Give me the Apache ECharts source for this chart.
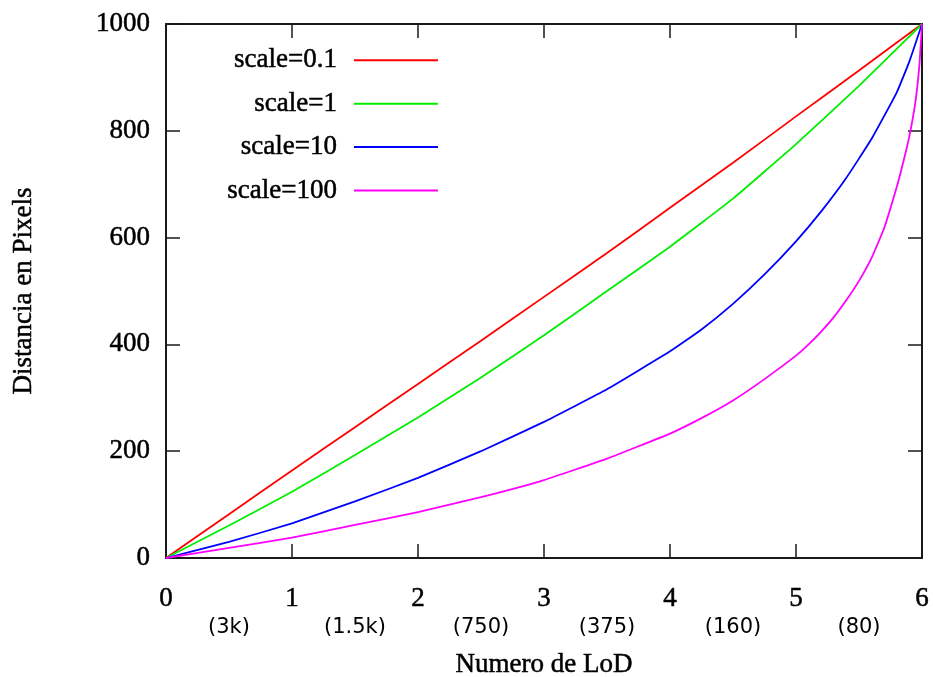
<!DOCTYPE html>
<html>
<head>
<meta charset="utf-8">
<script src="https://cdn.jsdelivr.net/npm/echarts@6/dist/echarts.min.js"></script>
<style>
html,body{margin:0;padding:0;background:#fff;}
#chart{width:933px;height:677px;}
</style>
</head>
<body>
<div id="chart"></div>
<script>
// ---- data ----
const xTicks = [0, 1, 2, 3, 4, 5, 6];
const yTicks = [0, 200, 400, 600, 800, 1000];
const lodLabels = ['(3k)', '(1.5k)', '(750)', '(375)', '(160)', '(80)'];

const seriesNames = ['scale=0.1', 'scale=1', 'scale=10', 'scale=100'];

const xRed = [0, 0.5, 1, 1.5, 2, 2.5, 3, 3.5, 4, 4.5, 5, 5.5, 6];
const yRed = [0, 82, 164, 245, 326, 407, 489, 571, 656, 740, 827, 913, 1000];

const xGreen = [0, 0.5, 1, 1.5, 2, 2.5, 3, 3.5, 4, 4.5, 5, 5.5, 6];
const yGreen = [0, 61, 124, 193, 263, 338, 417, 500, 583, 673, 775, 884, 1000];

const xBlue = [0, 0.5, 1, 1.5, 2, 2.5, 3, 3.5, 4, 4.25, 4.5, 4.75, 5, 5.2, 5.4, 5.6, 5.8, 5.9, 6];
const yBlue = [0, 30, 65, 106, 150, 200, 255, 316, 387, 428, 476, 531, 593, 649, 712, 785, 872, 930, 1000];

const xMag = [0, 0.5, 1, 1.5, 2, 2.5, 3, 3.5, 4, 4.25, 4.5, 4.75, 5, 5.1, 5.2, 5.3, 5.4, 5.5, 5.6, 5.7, 5.8, 5.85, 5.9, 5.95, 5.98, 6];
const yMag = [0, 19, 38, 62, 86, 114, 146, 186, 233, 262, 295, 335, 379, 400, 424, 451, 483, 519, 562, 618, 695, 740, 790, 858, 925, 1000];

// ---- build ----
function pairs(xs, ys) { return xs.map((x, i) => [x, ys[i]]); }
const colors = ['#ff0000', '#00ee00', '#0000ff', '#ff00ff'];
const dataSets = [pairs(xRed, yRed), pairs(xGreen, yGreen), pairs(xBlue, yBlue), pairs(xMag, yMag)];

const serif = 'Liberation Serif';
const heavy = { textBorderColor: '#000', textBorderWidth: 0.5 };
const frame = { show: true, onZero: false, lineStyle: { color: '#1a1a1a', width: 2 } };
const inTicks = { show: true, inside: true, length: 14, lineStyle: { color: '#1a1a1a', width: 1.5 } };
const plain = v => String(v);

const chart = echarts.init(document.getElementById('chart'), null, { renderer: 'canvas' });
chart.setOption({
  backgroundColor: '#fff',
  animation: false,
  grid: { left: 166, right: 11, top: 24, bottom: 119, containLabel: false, outerBoundsMode: 'none' },
  legend: {
    orient: 'vertical',
    align: 'right',
    left: 222,
    top: 41.5,
    itemWidth: 84,
    itemHeight: 14,
    itemGap: 15.9,
    data: seriesNames,
    itemStyle: { opacity: 0 },
    textStyle: Object.assign({ fontFamily: serif, fontSize: 27, color: '#000', lineHeight: 26, padding: [0, 12, 0, 0] }, heavy)
  },
  xAxis: [
    {
      type: 'value', position: 'bottom', min: xTicks[0], max: xTicks[xTicks.length - 1], interval: 1,
      axisLine: frame, axisTick: inTicks, splitLine: { show: false },
      axisLabel: Object.assign({ fontFamily: serif, fontSize: 27, color: '#000', margin: 27, formatter: plain }, heavy),
      name: 'Numero de LoD', nameLocation: 'middle', nameGap: 93,
      nameTextStyle: Object.assign({ fontFamily: serif, fontSize: 27, color: '#000' }, heavy)
    },
    {
      type: 'value', position: 'top', min: xTicks[0], max: xTicks[xTicks.length - 1], interval: 1,
      axisLine: frame, axisTick: inTicks, splitLine: { show: false }, axisLabel: { show: false }
    },
    {
      type: 'category', position: 'bottom', data: lodLabels, boundaryGap: true,
      axisLine: { show: false, onZero: false }, axisTick: { show: false }, splitLine: { show: false },
      axisLabel: { fontFamily: 'DejaVu Sans', fontSize: 21, color: '#000', margin: 59, interval: 0 }
    }
  ],
  yAxis: [
    {
      type: 'value', position: 'left', min: yTicks[0], max: yTicks[yTicks.length - 1], interval: 200,
      axisLine: frame, axisTick: inTicks, splitLine: { show: false },
      axisLabel: Object.assign({ fontFamily: serif, fontSize: 27, color: '#000', margin: 16, formatter: plain }, heavy),
      name: 'Distancia en Pixels', nameLocation: 'middle', nameGap: 129,
      nameTextStyle: Object.assign({ fontFamily: serif, fontSize: 27, color: '#000' }, heavy)
    },
    {
      type: 'value', position: 'right', min: yTicks[0], max: yTicks[yTicks.length - 1], interval: 200,
      axisLine: frame, axisTick: inTicks, splitLine: { show: false }, axisLabel: { show: false }
    }
  ],
  series: seriesNames.map((n, i) => ({
    name: n,
    type: 'line',
    xAxisIndex: 0,
    yAxisIndex: 0,
    data: dataSets[i],
    symbol: 'none',
    smooth: 0.12,
    color: colors[i],
    lineStyle: { color: colors[i], width: 1.8 },
    itemStyle: { color: colors[i] }
  }))
});
</script>
</body>
</html>
